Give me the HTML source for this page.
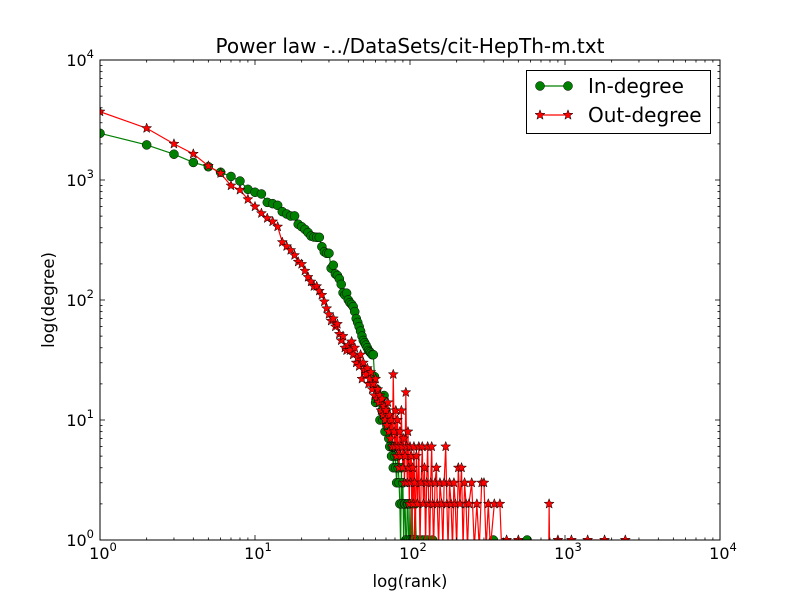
<!DOCTYPE html>
<html><head><meta charset="utf-8"><style>
html,body{margin:0;background:#fff;overflow:hidden;width:800px;height:600px;}
svg{display:block;font-family:"DejaVu Sans","Liberation Sans",sans-serif;overflow:hidden;}
</style></head><body>
<svg id="chart" width="800" height="600" viewBox="0 0 800 600">
<rect x="0" y="0" width="800" height="600" fill="#fff"/>
<defs><clipPath id="plotclip"><rect x="100" y="60" width="620" height="480"/></clipPath></defs>
<text x="410" y="53" text-anchor="middle" font-size="20">Power law -../DataSets/cit-HepTh-m.txt</text>
<text x="410" y="587" text-anchor="middle" font-size="16.5">log(rank)</text>
<text transform="translate(54,300) rotate(-90)" text-anchor="middle" font-size="16.5">log(degree)</text>
<g id="series" clip-path="url(#plotclip)"></g>
<rect x="100" y="60" width="620" height="480" fill="none" stroke="#000" stroke-width="1"/>
<g id="ticks"></g>
<g>
<rect x="526.5" y="70.5" width="184" height="63" fill="#fff" stroke="#000" stroke-width="1"/>
<g>
<line x1="540" y1="86" x2="568" y2="86" stroke="#008000" stroke-width="1.2"/>
<circle cx="540" cy="86" r="4.5" fill="#008000" stroke="#000" stroke-width="0.5"/>
<circle cx="568" cy="86" r="4.5" fill="#008000" stroke="#000" stroke-width="0.5"/>
<text x="588" y="93" font-size="20">In-degree</text>
</g>
<g id="legout">
<line x1="540" y1="115" x2="568" y2="115" stroke="#ff0000" stroke-width="1.2"/>
<text x="588" y="122" font-size="20">Out-degree</text>
</g>
</g>
</svg>
<script>
const xTicks = [1, 10, 100, 1000, 10000];
const xTickExp = ["0", "1", "2", "3", "4"];
const yTicks = [1, 10, 100, 1000, 10000];
const yTickExp = ["0", "1", "2", "3", "4"];
// In-degree head: values at rank 1..58
const inHead = [2450,1960,1640,1400,1290,1160,1070,980,836,790,765,651,635,615,545,521,501,502,428,408,388,365,341,335,333,333,278,252,245,245,184,195,165,160,150,135,115,110,114,100,95,92,88,80,70,65,60,55,50,46,44,42,40,38,37,36,35,35];
// In-degree tail ranks / values (0 = no count)
const inTailRank = [59,60,61,62,63,64,65,66,67,68,69,70,71,72,73,74,75,76,77,78,79,80,81,82,83,84,85,86,87,88,89,90,91,92,93,94,95,96,97,98,99,100,101,102,103,104,105,106,108,110,112,114,116,118,120,124,126,130,135,140,150,200,345,400,570,600];
const inTailVal = [23,14,18,16,15,10,14,12,10,16,8,12,9,10,7,6,8,5,6,4,6,5,4,3,5,4,3,2,0,4,2,3,0,2,2,1,0,2,2,1,0,2,1,0,2,1,0,1,2,0,1,0,1,0,1,1,0,1,0,1,0,0,1,0,1,0];
// Out-degree head: values at rank 1..40
const outHead = [3710,2700,2000,1650,1310,1136,897,826,690,600,528,480,450,408,303,280,260,236,208,199,175,155,142,130,130,119,110,97,85,76,67,70,60,63,52,46,50,40,38,42];
// Out-degree tail
const outTailRank = [41,42,43,44,45,46,47,48,49,50,51,52,53,54,55,56,57,58,59,60,61,62,63,64,65,66,67,68,69,70,71,72,73,74,75,76,77,78,79,80,81,82,83,84,85,86,87,88,89,90,91,92,93,94,95,96,97,98,99,100,101,102,103,104,105,106,107,108,110,112,114,116,118,120,122,124,126,128,130,132,134,136,138,140,142,145,148,150,153,156,160,163,166,170,173,176,180,184,188,192,196,200,205,210,215,220,225,230,235,240,250,260,270,280,290,300,310,320,330,350,380,390,420,500,786,790,795,900,1100,1200,1400,1800,2000,2450,2600];
const outTailVal = [38,45,35,40,30,33,28,35,22,30,26,24,27,20,22,25,18,20,16,22,15,18,14,16,12,15,11,13,10,12,9,14,8,11,7,10,6,24,8,6,12,5,10,6,4,8,5,12,6,4,7,3,5,17,6,3,8,4,2,6,3,5,0,4,2,6,3,0,5,2,6,0,3,6,2,4,0,3,6,2,0,3,6,2,0,3,4,2,0,3,2,0,3,6,2,0,3,2,0,3,2,0,4,2,4,0,3,2,0,2,3,0,2,0,3,3,0,2,0,2,2,0,1,1,0,2,0,1,1,0,1,1,0,1,0];

const NS = "http://www.w3.org/2000/svg";
const X0 = 100, X1 = 720, Y0 = 540, Y1 = 60;
function xs(v){ return X0 + (X1 - X0) * Math.log10(v) / 4; }
function ys(v){ if (v <= 0) return 548; return Y0 - (Y0 - Y1) * Math.log10(v) / 4; }

const series = document.getElementById('series');
const ticks = document.getElementById('ticks');

function buildPts(head, tr, tv){
  const pts = [];
  head.forEach((v, i) => pts.push([i + 1, v]));
  tr.forEach((r, i) => pts.push([r, tv[i]]));
  return pts;
}
function starPath(cx, cy, R){
  const r = R * 0.42; let d = "";
  for (let k = 0; k < 10; k++){
    const a = -Math.PI / 2 + k * Math.PI / 5;
    const rr = k % 2 ? r : R;
    d += (k ? "L" : "M") + (cx + rr * Math.cos(a)).toFixed(2) + "," + (cy + rr * Math.sin(a)).toFixed(2);
  }
  return d + "Z";
}
function drawSeries(pts, color, marker, name){
  const g = document.createElementNS(NS, 'g');
  
  
  const line = document.createElementNS(NS, 'polyline');
  
  
  line.setAttribute('points', pts.map(p => xs(p[0]).toFixed(2) + "," + ys(p[1]).toFixed(2)).join(" "));
  line.setAttribute('fill', 'none');
  line.setAttribute('stroke', color);
  line.setAttribute('stroke-width', '1.2');
  g.appendChild(line);
  pts.forEach(p => {
    if (p[1] <= 0) return;
    const cx = xs(p[0]), cy = ys(p[1]);
    let m;
    if (marker === 'circle'){
      m = document.createElementNS(NS, 'circle');
      m.setAttribute('cx', cx); m.setAttribute('cy', cy); m.setAttribute('r', 4.5);
    } else {
      m = document.createElementNS(NS, 'path');
      m.setAttribute('d', starPath(cx, cy, 5.2));
    }
    
    
    m.setAttribute('fill', color);
    m.setAttribute('stroke', '#000');
    m.setAttribute('stroke-width', '0.5');
    g.appendChild(m);
  });
  series.appendChild(g);
}
drawSeries(buildPts(inHead, inTailRank, inTailVal), '#008000', 'circle', 'in-degree-series');
drawSeries(buildPts(outHead, outTailRank, outTailVal), '#ff0000', 'star', 'out-degree-series');

const leg = document.getElementById('legout');
[540, 568].forEach(x => {
  const s = document.createElementNS(NS, 'path');
  
  
  s.setAttribute('d', starPath(x, 115, 5.2));
  s.setAttribute('fill', '#ff0000'); s.setAttribute('stroke', '#000'); s.setAttribute('stroke-width', '0.5');
  leg.appendChild(s);
});

function tline(x1, y1, x2, y2){
  const l = document.createElementNS(NS, 'line');
  
  
  l.setAttribute('x1', x1); l.setAttribute('y1', y1); l.setAttribute('x2', x2); l.setAttribute('y2', y2);
  l.setAttribute('stroke', '#000'); l.setAttribute('stroke-width', '0.8');
  ticks.appendChild(l);
}
function label(x, y, exp, anchor, name){
  const t = document.createElementNS(NS, 'text');
  
  
  t.setAttribute('x', x); t.setAttribute('y', y);
  t.setAttribute('text-anchor', anchor);
  t.setAttribute('font-size', '16');
  t.innerHTML = '10<tspan font-size="11.5" dy="-8">' + exp + '</tspan>';
  ticks.appendChild(t);
}
xTicks.forEach((v, i) => {
  const x = xs(v);
  tline(x, Y0, x, Y0 - 5); tline(x, Y1, x, Y1 + 5);
  label(x + 3, 559, xTickExp[i], 'middle', 'x-tick-label');
  if (i < xTicks.length - 1){
    for (let k = 2; k < 10; k++){
      const mx = xs(v * k);
      tline(mx, Y0, mx, Y0 - 2.5); tline(mx, Y1, mx, Y1 + 2.5);
    }
  }
});
yTicks.forEach((v, i) => {
  const y = ys(v);
  tline(X0, y, X0 + 5, y); tline(X1, y, X1 - 5, y);
  label(94, y + 6, yTickExp[i], 'end', 'y-tick-label');
  if (i < yTicks.length - 1){
    for (let k = 2; k < 10; k++){
      const my = ys(v * k);
      tline(X0, my, X0 + 2.5, my); tline(X1, my, X1 - 2.5, my);
    }
  }
});
</script>
</body></html>
